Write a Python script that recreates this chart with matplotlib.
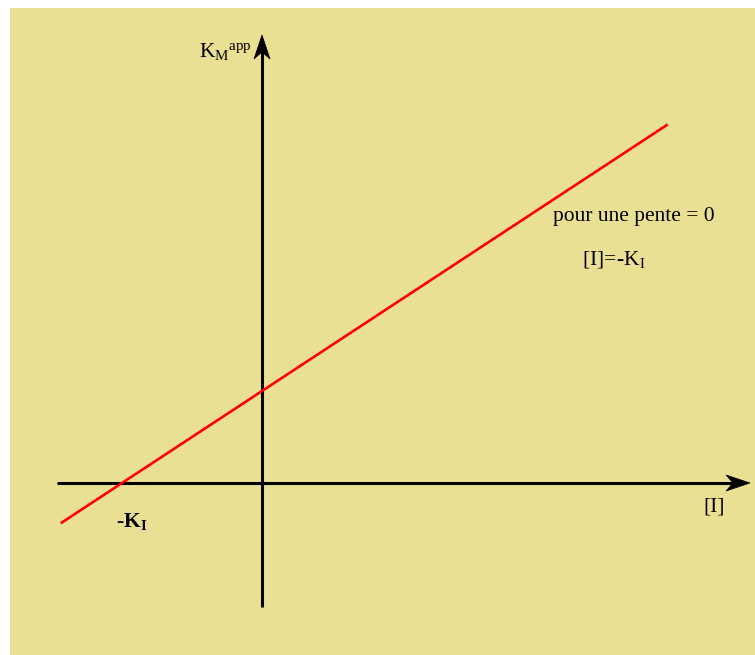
import matplotlib
matplotlib.use("Agg")
import matplotlib.pyplot as plt
from matplotlib.patches import Rectangle, Polygon
import numpy as np

plt.rcParams['font.family'] = ['Liberation Serif', 'DejaVu Serif']
plt.rcParams['mathtext.fontset'] = 'custom'
plt.rcParams['mathtext.rm'] = 'Liberation Serif'
plt.rcParams['mathtext.it'] = 'Liberation Serif:italic'
plt.rcParams['mathtext.bf'] = 'Liberation Serif:bold'

# Plot of apparent KM versus inhibitor concentration
K_I = 1.0                 # -K_I is where the line crosses the [I] axis
KM_intercept = 0.657      # apparent KM when [I] = 0
I_range = [-1.43, 2.89]   # extent of the drawn line along [I]

x_axis_range = [-1.464, 3.486]
y_axis_range = [-0.886, 3.20]

BG = '#EAE093'
W, H = 755, 655
PX = 140.0  # pixels per data unit

fig = plt.figure(figsize=(W / 100, H / 100), dpi=100)
fig.patch.set_facecolor('white')

ax = fig.add_axes([0, 0, 1, 1])
ax.set_facecolor('none')
ax.set_xlim(-262 / PX, (W - 262) / PX)
ax.set_ylim(-(H - 483) / PX, 483 / PX)
ax.axis('off')

ax.add_patch(Rectangle((10 / W, 0), (W - 10) / W, (H - 8) / H,
                       transform=ax.transAxes, facecolor=BG,
                       edgecolor='none', zorder=0, clip_on=False))

# axes with arrowheads
lw_axis = 2.2
ax.plot([x_axis_range[0], x_axis_range[1] - 0.08], [0, 0], color='black',
        lw=lw_axis, solid_capstyle='butt', zorder=2)
ax.plot([0, 0], [y_axis_range[0], y_axis_range[1] - 0.08], color='black',
        lw=lw_axis, solid_capstyle='butt', zorder=2)

hl, hw, notch = 24 / PX, 8 / PX, 7 / PX
tx = x_axis_range[1]
ax.add_patch(Polygon([[tx, 0], [tx - hl, hw], [tx - hl + notch, 0], [tx - hl, -hw]],
                     closed=True, facecolor='black', edgecolor='black', lw=0.5,
                     zorder=2))
ty = y_axis_range[1]
ax.add_patch(Polygon([[0, ty], [hw, ty - hl], [0, ty - hl + notch], [-hw, ty - hl]],
                     closed=True, facecolor='black', edgecolor='black', lw=0.5,
                     zorder=2))

# apparent KM line
xs = np.array(I_range)
ys = KM_intercept / K_I * (xs + K_I)
ax.plot(xs, ys, color='#FF0000', lw=1.9, zorder=3)

fs = 15.5
ax.text(-63 / PX, 432 / PX, r'$\mathrm{K}_{\mathrm{M}}{}^{\mathrm{app}}$',
        fontsize=fs, ha='left', va='center')
ax.text(291 / PX, 267 / PX, 'pour une pente = 0', fontsize=fs,
        ha='left', va='center')
ax.text(320 / PX, 223 / PX, r'$\mathrm{[I]\!=\!\text{-}K_I}$', fontsize=fs,
        ha='left', va='center')
ax.text(-K_I - 0.04, -39 / PX, r'$\mathbf{\text{-}K_I}$', fontsize=fs,
        ha='left', va='center')
ax.text(441 / PX, -24 / PX, '[I]', fontsize=fs, ha='left', va='center')

fig.savefig('out.png', dpi=100, facecolor=fig.get_facecolor())
